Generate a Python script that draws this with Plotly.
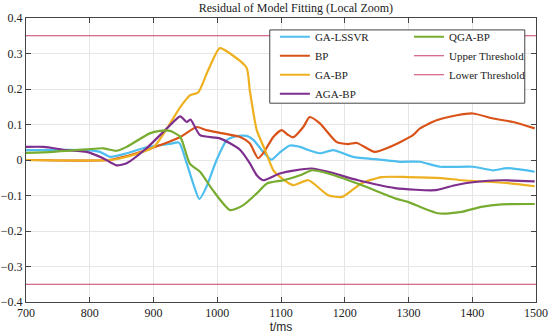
import plotly.graph_objects as go

# ---- data ----
t_lssvr = [700, 795, 816, 832, 858, 889, 925, 940, 952, 962, 972, 983, 999, 1015, 1030, 1046, 1057, 1072, 1085, 1098, 1114, 1130, 1140, 1161, 1182, 1213, 1255, 1287, 1318, 1349, 1401, 1433, 1454, 1498]
v_lssvr = [0.028, 0.028, 0.023, 0.009, 0.019, 0.036, 0.045, 0.049, -0.009, -0.065, -0.11, -0.076, 0.0, 0.056, 0.067, 0.068, 0.056, 0.023, 0.001, 0.021, 0.041, 0.037, 0.030, 0.019, 0.028, 0.009, 0.001, -0.005, -0.005, -0.019, -0.019, -0.029, -0.023, -0.033]

t_bp = [700, 830, 860, 900, 942, 968, 983, 1009, 1036, 1051, 1064, 1072, 1088, 1101, 1110, 1119, 1135, 1145, 1161, 1187, 1205, 1219, 1247, 1271, 1307, 1318, 1344, 1376, 1401, 1433, 1464, 1498]
v_bp = [0.0, 0.0, 0.012, 0.035, 0.065, 0.093, 0.084, 0.075, 0.065, 0.047, 0.005, 0.019, 0.065, 0.084, 0.072, 0.064, 0.093, 0.121, 0.103, 0.051, 0.045, 0.048, 0.023, 0.037, 0.070, 0.089, 0.112, 0.126, 0.131, 0.117, 0.107, 0.089]

t_gabp = [700, 832, 860, 900, 942, 957, 970, 985, 1004, 1020, 1046, 1051, 1062, 1075, 1088, 1098, 1119, 1143, 1174, 1196, 1227, 1258, 1299, 1352, 1384, 1456, 1498]
v_gabp = [0.0, 0.0, 0.01, 0.036, 0.149, 0.182, 0.19, 0.25, 0.315, 0.3, 0.26, 0.197, 0.084, 0.028, -0.029, -0.047, -0.071, -0.057, -0.099, -0.104, -0.065, -0.048, -0.048, -0.051, -0.057, -0.065, -0.074]

t_agabp = [700, 728, 763, 795, 821, 842, 858, 889, 921, 942, 952, 958, 973, 1004, 1020, 1036, 1051, 1062, 1072, 1098, 1122, 1148, 1174, 1221, 1279, 1342, 1373, 1404, 1446, 1498]
v_agabp = [0.037, 0.037, 0.028, 0.023, 0.005, -0.015, -0.009, 0.033, 0.089, 0.123, 0.107, 0.114, 0.07, 0.061, 0.047, 0.028, -0.009, -0.043, -0.057, -0.038, -0.029, -0.024, -0.033, -0.057, -0.079, -0.085, -0.071, -0.062, -0.057, -0.060]

t_qgabp = [700, 742, 795, 821, 842, 858, 894, 910, 926, 942, 957, 973, 993, 1020, 1041, 1062, 1078, 1104, 1130, 1148, 1174, 1227, 1279, 1299, 1346, 1383, 1414, 1446, 1498]
v_qgabp = [0.02, 0.023, 0.03, 0.033, 0.026, 0.037, 0.075, 0.082, 0.082, 0.065, -0.01, -0.033, -0.085, -0.141, -0.127, -0.094, -0.066, -0.057, -0.043, -0.029, -0.038, -0.071, -0.108, -0.118, -0.15, -0.146, -0.132, -0.125, -0.124]

x_range = [700, 1500]
upper_threshold = 0.35
lower_threshold = -0.35

x_ticks = [700, 800, 900, 1000, 1100, 1200, 1300, 1400, 1500]
y_ticks = [-0.4, -0.3, -0.2, -0.1, 0, 0.1, 0.2, 0.3, 0.4]
y_ticktext = ["\u22120.4", "\u22120.3", "\u22120.2", "\u22120.1", "0", "0.1", "0.2", "0.3", "0.4"]

series = [
    ("GA-LSSVR", t_lssvr, v_lssvr, "#4DBEEE", "legend"),
    ("BP", t_bp, v_bp, "#D95319", "legend"),
    ("GA-BP", t_gabp, v_gabp, "#EDB120", "legend"),
    ("AGA-BP", t_agabp, v_agabp, "#7E2F8E", "legend"),
    ("QGA-BP", t_qgabp, v_qgabp, "#77AC30", "legend2"),
]

SERIF = "Liberation Serif"
fig = go.Figure()
for name, xs, ys, col, lg in series:
    fig.add_trace(go.Scatter(x=xs, y=ys, mode="lines", name=name, legend=lg,
                             line=dict(color=col, width=2.2, shape="spline", smoothing=0.6)))

thr_col = "#C83C64"
fig.add_trace(go.Scatter(x=x_range, y=[upper_threshold] * 2, mode="lines", name="Upper Threshold",
                         legend="legend2", line=dict(color=thr_col, width=1)))
fig.add_trace(go.Scatter(x=x_range, y=[lower_threshold] * 2, mode="lines", name="Lower Threshold",
                         legend="legend2", line=dict(color=thr_col, width=1)))

axis_common = dict(showline=True, linecolor="#444", linewidth=1, mirror="ticks",
                   ticks="inside", ticklen=5, tickcolor="#444", automargin=False,
                   showgrid=True, gridcolor="#E6E6E6", gridwidth=1, zeroline=False,
                   tickfont=dict(family=SERIF, size=12, color="#222"))

legend_common = dict(orientation="v", yanchor="top", xanchor="left", y=0.985,
                     bgcolor="rgba(0,0,0,0)", borderwidth=0, tracegroupgap=0,
                     font=dict(family=SERIF, size=11, color="#222"), itemwidth=30)

fig.update_layout(
    width=550, height=335,
    margin=dict(l=26, r=14, t=18, b=33, autoexpand=False),
    paper_bgcolor="white", plot_bgcolor="white",
    title=dict(text="Residual of Model Fitting (Local Zoom)", x=0.538, xanchor="center",
               y=0.976, yanchor="middle", font=dict(family=SERIF, size=12, color="#222")),
    xaxis=dict(range=x_range, tickvals=x_ticks, **axis_common,
               title=dict(text="t/ms", font=dict(family="Liberation Sans", size=12, color="#222"), standoff=2)),
    yaxis=dict(range=[-0.4, 0.4], tickvals=y_ticks, ticktext=y_ticktext, **axis_common),
    legend=dict(x=0.488, **legend_common),
    legend2=dict(x=0.751, **legend_common),
    showlegend=True,
    shapes=[dict(type="rect", xref="paper", yref="paper", x0=0.478, x1=0.978, y0=0.7, y1=0.958,
                 fillcolor="white", line=dict(color="#444", width=1), layer="above")],
)

fig.write_html("out.html", config={"displayModeBar": False},
               post_script="document.body.style.margin='0';")
